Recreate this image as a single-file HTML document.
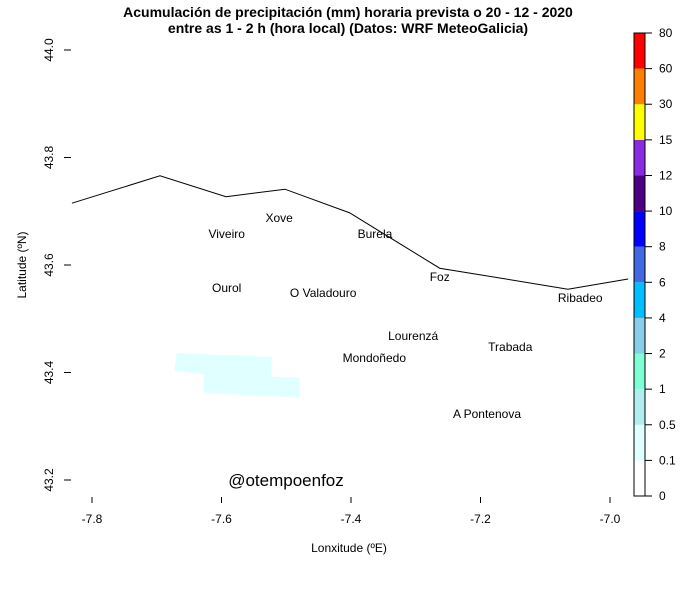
<!DOCTYPE html>
<html><head><meta charset="utf-8"><style>
body{margin:0;background:#fff}
svg{font-family:"Liberation Sans",sans-serif;display:block}
</style></head><body>
<svg id="c" width="700" height="600">
<text x="348" y="17" text-anchor="middle" font-size="14" font-weight="bold">Acumulación de precipitación (mm) horaria prevista o 20 - 12 - 2020</text>
<text x="348" y="33" text-anchor="middle" font-size="14" font-weight="bold">entre as 1 - 2 h (hora local) (Datos: WRF MeteoGalicia)</text>
<g id="patch"></g>
<polyline id="coast" fill="none" stroke="#000" stroke-width="1"/>
<g id="towns" font-size="12"></g>
<g id="xaxis" font-size="12"></g>
<g id="yaxis" font-size="12"></g>
<text x="349" y="552" text-anchor="middle" font-size="12">Lonxitude (ºE)</text>
<text transform="translate(26,265) rotate(-90)" text-anchor="middle" font-size="12">Latitude (ºN)</text>
<text x="286" y="486" text-anchor="middle" font-size="17">@otempoenfoz</text>
<g id="cbar" font-size="12"></g>
</svg>
<script>
const xTicks=[-7.8,-7.6,-7.4,-7.2,-7.0];
const xTickLabels=["-7.8","-7.6","-7.4","-7.2","-7.0"];
const yTicks=[43.2,43.4,43.6,43.8,44.0];
const yTickLabels=["43.2","43.4","43.6","43.8","44.0"];
const coastLon=[-7.831,-7.695,-7.593,-7.502,-7.402,-7.263,-7.065,-6.972];
const coastLat=[43.715,43.766,43.727,43.741,43.697,43.594,43.555,43.574];
const townNames=["Xove","Viveiro","Burela","Foz","Ourol","O Valadouro","Ribadeo","Lourenzá","Trabada","Mondoñedo","A Pontenova"];
const townLon=[-7.511,-7.592,-7.363,-7.263,-7.592,-7.443,-7.046,-7.304,-7.154,-7.364,-7.19];
const townLat=[43.687,43.658,43.658,43.578,43.557,43.548,43.539,43.468,43.447,43.427,43.323];
const patchLon=[-7.669,-7.522,-7.524,-7.479,-7.480,-7.627,-7.627,-7.673];
const patchLat=[43.436,43.429,43.392,43.390,43.354,43.362,43.397,43.403];
const cbarLevels=["0","0.1","0.5","1","2","4","6","8","10","12","15","30","60","80"];
const cbarColors=["#ffffff","#e0ffff","#afeeee","#7fffd4","#87ceeb","#00bfff","#4169e1","#0000ff","#4b0082","#8a2be2","#ffff00","#ff7f00","#ff0000"];

const NS="http://www.w3.org/2000/svg";
const xS=v=>92+(v+7.8)*647.5;
const yS=v=>480-(v-43.2)*537.5;
function mk(tag,attrs,parent,txt){const e=document.createElementNS(NS,tag);for(const k in attrs)e.setAttribute(k,attrs[k]);if(txt!==undefined)e.textContent=txt;parent.appendChild(e);return e;}

const patchG=document.getElementById('patch');
const poly=mk('polygon',{points:patchLon.map((v,i)=>xS(v)+','+yS(patchLat[i])).join(' '),fill:'#e0ffff'},patchG);



document.getElementById('coast').setAttribute('points',coastLon.map((v,i)=>xS(v)+','+yS(coastLat[i])).join(' '));

const townsG=document.getElementById('towns');
townNames.forEach((n,i)=>{
  const t=mk('text',{x:xS(townLon[i]),y:yS(townLat[i])+4,'text-anchor':'middle'},townsG,n);
  
  
});

const xa=document.getElementById('xaxis');
xTicks.forEach((v,i)=>{
  const l=mk('line',{x1:xS(v),x2:xS(v),y1:497,y2:503,stroke:'#000'},xa);
  
  
  const t=mk('text',{x:xS(v),y:523,'text-anchor':'middle'},xa,xTickLabels[i]);
  
  
});
const ya=document.getElementById('yaxis');
yTicks.forEach((v,i)=>{
  const l=mk('line',{x1:64,x2:71,y1:yS(v),y2:yS(v),stroke:'#000'},ya);
  
  
  const t=mk('text',{transform:`translate(53,${yS(v)}) rotate(-90)`,'text-anchor':'middle'},ya,yTickLabels[i]);
  
  
});

const cb=document.getElementById('cbar');
const cTop=33,cBot=496,seg=(cBot-cTop)/cbarColors.length;
cbarColors.forEach((c,i)=>{
  const r=mk('rect',{x:634,y:cBot-(i+1)*seg,width:11,height:seg,fill:c},cb);
  
  
});
mk('rect',{x:634,y:cTop,width:11,height:cBot-cTop,fill:'none',stroke:'#000'},cb);
cbarLevels.forEach((lab,i)=>{
  const y=cBot-i*seg;
  mk('line',{x1:645,x2:652,y1:y,y2:y,stroke:'#000'},cb);
  const t=mk('text',{x:659,y:y+4},cb,lab);
  
  
});
</script>
</body></html>
